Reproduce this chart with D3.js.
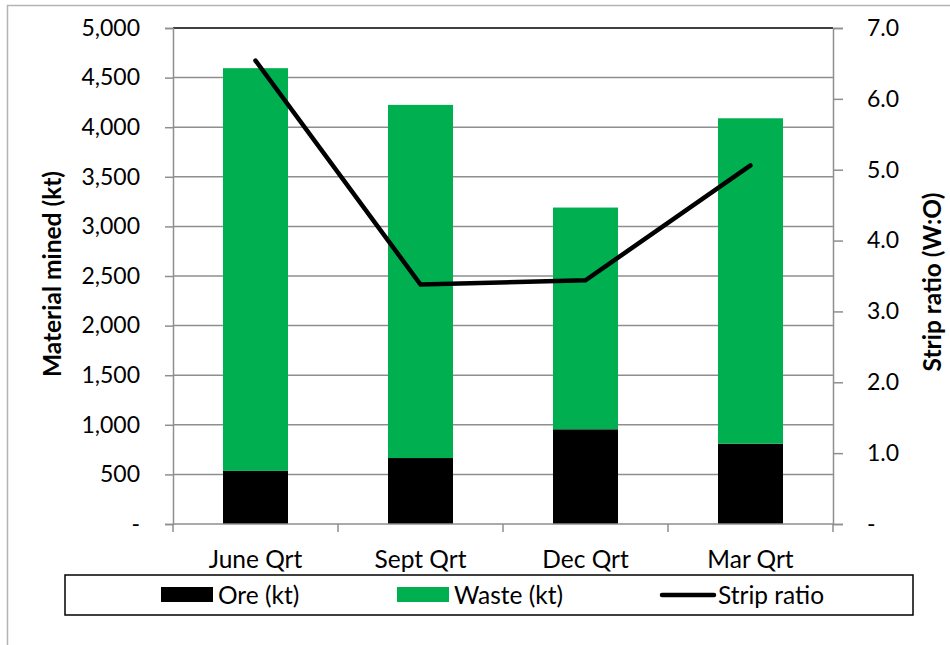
<!DOCTYPE html>
<html>
<head>
<meta charset="utf-8">
<script src="https://cdn.jsdelivr.net/npm/d3@7"></script>
<style>
  html, body { margin: 0; padding: 0; background: #fff; }
  svg { display: block; font-family: Lato, "Liberation Sans", sans-serif; }
</style>
</head>
<body>
<svg id="chart" width="950" height="645"></svg>
<script>
const categories = ["June Qrt", "Sept Qrt", "Dec Qrt", "Mar Qrt"];
const oreKt = [535, 665, 955, 810];
const wasteKt = [4060, 3560, 2235, 3280];
const stripRatio = [6.54, 3.38, 3.44, 5.06];
const leftTicks = [0, 500, 1000, 1500, 2000, 2500, 3000, 3500, 4000, 4500, 5000];
const rightTicks = [0, 1, 2, 3, 4, 5, 6, 7];
const legendLabels = ["Ore (kt)", "Waste (kt)", "Strip ratio"];

const GREEN = "#00B050";
const GRID = "#8e8e8e";
const svg = d3.select("#chart");

const plot = { left: 173, right: 833, top: 28, bottom: 524 };

const x = d3.scaleBand().domain(categories)
  .range([plot.left, plot.right]).paddingInner(0.606).paddingOuter(0.303);
const xStep = d3.scalePoint().domain(categories).range([plot.left, plot.right]).padding(0.5);
const yL = d3.scaleLinear().domain([0, 5000]).range([plot.bottom, plot.top]);
const yR = d3.scaleLinear().domain([0, 7]).range([plot.bottom, plot.top]);

// outer chart border
svg.append("rect").attr("x", 7.5).attr("y", 5.5).attr("width", 1000).attr("height", 1000)
  .attr("fill", "none").attr("stroke", "#b4b4b4").attr("stroke-width", 1.5);

// gridlines
svg.append("g").selectAll("line").data(leftTicks.filter(d => d > 0)).join("line")
  .attr("x1", plot.left).attr("x2", plot.right)
  .attr("y1", d => yL(d)).attr("y2", d => yL(d))
  .attr("stroke", d => d === 5000 ? "#000" : GRID).attr("stroke-width", 1.5);

// stacked bars
const stack = d3.stack().keys(["ore", "waste"])(categories.map((c, i) => ({ cat: c, ore: oreKt[i], waste: wasteKt[i] })));
const colors = { ore: "#000000", waste: GREEN };
svg.append("g").selectAll("g").data(stack).join("g")
  .attr("fill", d => colors[d.key])
  .selectAll("rect").data(d => d).join("rect")
  .attr("x", d => x(d.data.cat))
  .attr("width", x.bandwidth())
  .attr("y", d => yL(d[1]))
  .attr("height", d => yL(d[0]) - yL(d[1]));

// left axis
const axL = svg.append("g").attr("transform", `translate(${plot.left},0)`)
  .call(d3.axisLeft(yL).tickValues(leftTicks).tickSize(8).tickPadding(25)
    .tickFormat(d => d === 0 ? "-" : d3.format(",")(d)));
axL.select(".domain").attr("stroke", GRID).attr("stroke-width", 1.5);
axL.selectAll(".tick line").attr("stroke", GRID).attr("stroke-width", 1.5);
axL.selectAll(".tick text").attr("font-size", 23).attr("fill", "#000")
  .attr("font-family", "Lato, 'Liberation Sans', sans-serif");

// right axis
const axR = svg.append("g").attr("transform", `translate(${plot.right},0)`)
  .call(d3.axisRight(yR).tickValues(rightTicks).tickSize(10).tickPadding(24)
    .tickFormat(d => d === 0 ? "-" : d3.format(".1f")(d)));
axR.select(".domain").attr("stroke", GRID).attr("stroke-width", 1.5);
axR.selectAll(".tick line").attr("stroke", GRID).attr("stroke-width", 1.5);
axR.selectAll(".tick text").attr("font-size", 23).attr("fill", "#000")
  .attr("font-family", "Lato, 'Liberation Sans', sans-serif");

// bottom axis with boundary ticks
const bottom = svg.append("g").attr("transform", `translate(0,${plot.bottom})`);
bottom.append("line").attr("x1", plot.left).attr("x2", plot.right)
  .attr("stroke", GRID).attr("stroke-width", 1.5);
const bounds = categories.map(c => x(c) - x.step() * x.paddingInner() / 2).concat([plot.right]);
bottom.selectAll("line.tk").data(bounds).join("line").attr("class", "tk")
  .attr("x1", d => d).attr("x2", d => d).attr("y1", 0).attr("y2", 8)
  .attr("stroke", GRID).attr("stroke-width", 1.5);
bottom.selectAll("text").data(categories).join("text")
  .attr("x", d => xStep(d)).attr("y", 44)
  .attr("text-anchor", "middle").attr("font-size", 24.5).text(d => d);

// strip ratio line
svg.append("path")
  .datum(categories.map((c, i) => [xStep(c), yR(stripRatio[i])]))
  .attr("d", d3.line())
  .attr("fill", "none").attr("stroke", "#000").attr("stroke-width", 4.5)
  .attr("stroke-linecap", "round").attr("stroke-linejoin", "miter");

// axis titles
svg.append("text").attr("transform", "translate(51,274) rotate(-90)")
  .attr("text-anchor", "middle").attr("dominant-baseline", "central")
  .attr("font-weight", "bold").attr("font-size", 24.5).text("Material mined (kt)");
svg.append("text").attr("transform", "translate(931,282) rotate(-90)")
  .attr("text-anchor", "middle").attr("dominant-baseline", "central")
  .attr("font-weight", "bold").attr("font-size", 24.5).text("Strip ratio (W:O)");

// legend
const lg = svg.append("g");
lg.append("rect").attr("x", 65).attr("y", 575).attr("width", 848).attr("height", 40)
  .attr("fill", "#fff").attr("stroke", "#000").attr("stroke-width", 1.5);
const legendX = [161, 397, 660];
const legendTypes = ["box", "box", "line"];
const legendColors = ["#000", GREEN, "#000"];
legendLabels.forEach((lab, i) => {
  if (legendTypes[i] === "box") {
    lg.append("rect").attr("x", legendX[i]).attr("y", 587).attr("width", 52).attr("height", 15)
      .attr("fill", legendColors[i]);
  } else {
    lg.append("line").attr("x1", legendX[i] + 2).attr("x2", legendX[i] + 54)
      .attr("y1", 595).attr("y2", 595).attr("stroke", "#000").attr("stroke-width", 4.5)
      .attr("stroke-linecap", "round");
  }
  lg.append("text").attr("x", legendX[i] + (legendTypes[i] === "box" ? 57 : 58)).attr("y", 604)
    .attr("font-size", 24.5).text(lab);
});
</script>
</body>
</html>
